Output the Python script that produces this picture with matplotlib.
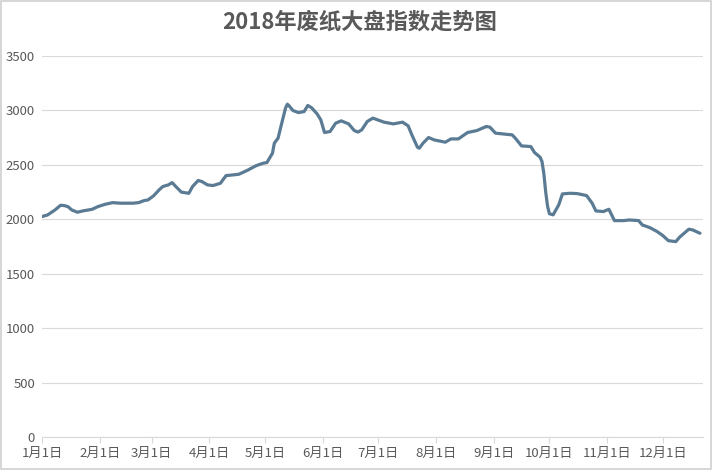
import matplotlib
matplotlib.use("Agg")
import matplotlib.pyplot as plt
import matplotlib.dates as mdates
import matplotlib.patches as mpatches
import pandas as pd
import datetime as dt

plt.rcParams['font.family'] = ['Noto Sans CJK SC', 'DejaVu Sans']

title = "2018年废纸大盘指数走势图"

dates = [
    "2018-01-01", "2018-01-04", "2018-01-08", "2018-01-11", "2018-01-13", "2018-01-15",
    "2018-01-17", "2018-01-20", "2018-01-23", "2018-01-28", "2018-01-31", "2018-02-04",
    "2018-02-08", "2018-02-12", "2018-02-19", "2018-02-22", "2018-02-25", "2018-02-27",
    "2018-03-02", "2018-03-05", "2018-03-07", "2018-03-10", "2018-03-12", "2018-03-14",
    "2018-03-17", "2018-03-21", "2018-03-23", "2018-03-26", "2018-03-28", "2018-03-31",
    "2018-04-03", "2018-04-07", "2018-04-10", "2018-04-14", "2018-04-17", "2018-04-22",
    "2018-04-26", "2018-04-30", "2018-05-02", "2018-05-05", "2018-05-06", "2018-05-08",
    "2018-05-10", "2018-05-12", "2018-05-13", "2018-05-14", "2018-05-16", "2018-05-19",
    "2018-05-22", "2018-05-24", "2018-05-26", "2018-05-29", "2018-05-31", "2018-06-02",
    "2018-06-05", "2018-06-08", "2018-06-11", "2018-06-15", "2018-06-18", "2018-06-20",
    "2018-06-22", "2018-06-25", "2018-06-28", "2018-07-04", "2018-07-09", "2018-07-14",
    "2018-07-17", "2018-07-19", "2018-07-22", "2018-07-23", "2018-07-25", "2018-07-28",
    "2018-07-31", "2018-08-06", "2018-08-09", "2018-08-13", "2018-08-18", "2018-08-23",
    "2018-08-28", "2018-08-30", "2018-09-02", "2018-09-07", "2018-09-11", "2018-09-13",
    "2018-09-16", "2018-09-21", "2018-09-23", "2018-09-26", "2018-09-27", "2018-09-28",
    "2018-09-29", "2018-09-30", "2018-10-01", "2018-10-03", "2018-10-06", "2018-10-08",
    "2018-10-12", "2018-10-16", "2018-10-21", "2018-10-24", "2018-10-26", "2018-10-30",
    "2018-11-02", "2018-11-05", "2018-11-10", "2018-11-13", "2018-11-18", "2018-11-20",
    "2018-11-24", "2018-11-28", "2018-12-01", "2018-12-04", "2018-12-08", "2018-12-10",
    "2018-12-15", "2018-12-17", "2018-12-21",
]
values = [
    2024, 2039, 2085, 2128, 2125, 2115,
    2085, 2064, 2076, 2091, 2115, 2137,
    2152, 2147, 2147, 2152, 2171, 2177,
    2214, 2269, 2300, 2315, 2336, 2300,
    2248, 2238, 2300, 2355, 2346, 2315,
    2309, 2330, 2400, 2407, 2413, 2453,
    2490, 2514, 2520, 2606, 2698, 2744,
    2882, 3019, 3056, 3040, 2998, 2979,
    2988, 3044, 3024, 2967, 2912, 2796,
    2805, 2882, 2903, 2875, 2814, 2800,
    2820, 2897, 2928, 2891, 2875, 2891,
    2857, 2774, 2661, 2652, 2698, 2750,
    2728, 2707, 2737, 2737, 2796, 2814,
    2851, 2845, 2790, 2781, 2774, 2737,
    2673, 2667, 2612, 2569, 2530, 2420,
    2250, 2120, 2050, 2040, 2131, 2232,
    2238, 2235, 2217, 2147, 2076, 2070,
    2091, 1987, 1987, 1993, 1987, 1947,
    1923, 1886, 1850, 1803, 1794, 1834,
    1908, 1902, 1871,
]

tick_dates = ["2018-%02d-01" % m for m in range(1, 13)]
tick_labels = ["%d月1日" % m for m in range(1, 13)]
y_ticks = [0, 500, 1000, 1500, 2000, 2500, 3000, 3500]

x = pd.to_datetime(dates)

fig = plt.figure(figsize=(7.12, 4.70), dpi=100)
ax = fig.add_axes([0.059, 0.0702, 0.928, 0.811])

ax.plot(x, values, color='#5a7b93', linewidth=2.3, solid_capstyle='round',
        solid_joinstyle='round', zorder=3)

start = mdates.date2num(dt.datetime(2018, 1, 1))
ax.set_xlim(start, start + 355.5)
ax.set_ylim(0, 3500)

ax.set_xticks(pd.to_datetime(tick_dates))
ax.set_xticklabels(tick_labels)
ax.set_yticks(y_ticks)
ax.set_yticklabels([str(v) for v in y_ticks])

ax.grid(axis='y', color='#d9d9d9', linewidth=0.8)
ax.set_axisbelow(True)
for s in ['top', 'right', 'left']:
    ax.spines[s].set_visible(False)
ax.spines['bottom'].set_color('#d9d9d9')
ax.spines['bottom'].set_linewidth(0.8)

ax.tick_params(axis='x', length=4, color='#d9d9d9', labelsize=9.5, labelcolor='#595959', pad=3)
ax.tick_params(axis='y', length=0, labelsize=9.5, labelcolor='#595959', pad=5)

fig.text(0.505, 0.952, title, ha='center', va='center', fontsize=16,
         fontweight='bold', color='#595959')

fig.patches.append(mpatches.Rectangle((0.001, 0.002), 0.997, 0.996, transform=fig.transFigure,
                                      fill=False, edgecolor='#d0d0d0', linewidth=1.2))

fig.savefig("out.png", dpi=100)
